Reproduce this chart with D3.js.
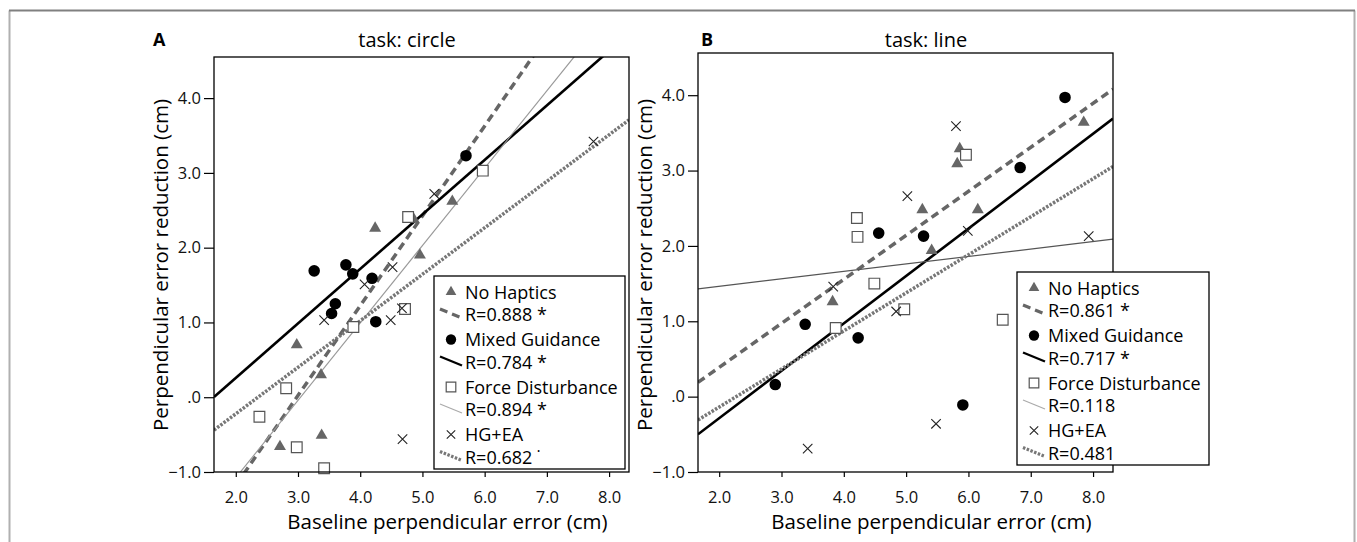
<!DOCTYPE html>
<html>
<head>
<meta charset="utf-8">
<script src="https://cdn.jsdelivr.net/npm/d3@7"></script>
<style>
  body { margin: 0; background: #fff; }
  svg { display: block; font-family: 'Open Sans', sans-serif; }
</style>
</head>
<body>
<svg id="chart" width="1357" height="542"></svg>
<script>
// legend order of the four groups
var seriesNames = ["No Haptics", "Mixed Guidance", "Force Disturbance", "HG+EA"];
var xTicks = [2, 3, 4, 5, 6, 7, 8];
var yTicks = [-1, 0, 1, 2, 3, 4];

// task: circle  -> [baseline error, error reduction]
var circleNoHaptics = [[5.48, 2.62], [4.86, 2.38], [4.24, 2.26], [4.96, 1.90], [2.98, 0.70], [3.37, 0.30], [3.38, -0.51], [2.71, -0.66]];
var circleMixed = [[5.70, 3.23], [3.26, 1.69], [3.77, 1.77], [3.88, 1.65], [4.19, 1.59], [3.60, 1.25], [3.54, 1.12], [4.25, 1.01]];
var circleForce = [[5.97, 3.03], [4.77, 2.41], [4.72, 1.18], [3.89, 0.94], [2.81, 0.12], [2.38, -0.26], [2.98, -0.67], [3.42, -0.95]];
var circleHGEA = [[7.75, 3.42], [5.19, 2.72], [4.52, 1.74], [4.07, 1.51], [3.42, 1.03], [4.49, 1.03], [4.67, 1.19], [4.68, -0.56]];
// fit lines y = a + b*x
var circleIntercepts = [-3.58, -1.20, -3.147, -1.466];
var circleSlopes = [1.201, 0.729, 1.035, 0.622];
var circleR = ["R=0.888 *", "R=0.784 *", "R=0.894 *", "R=0.682 \u02D9"];

// task: line
var lineNoHaptics = [[5.86, 3.29], [5.82, 3.09], [5.26, 2.48], [6.15, 2.48], [5.41, 1.94], [7.85, 3.64], [3.82, 1.26]];
var lineMixed = [[7.55, 3.97], [6.83, 3.04], [4.56, 2.17], [5.28, 2.13], [3.38, 0.96], [4.23, 0.78], [2.90, 0.16], [5.91, -0.11]];
var lineForce = [[5.96, 3.21], [4.21, 2.37], [4.22, 2.12], [4.49, 1.50], [4.97, 1.16], [6.55, 1.02], [3.87, 0.91]];
var lineHGEA = [[5.80, 3.59], [5.02, 2.66], [5.99, 2.20], [7.93, 2.13], [3.83, 1.46], [4.84, 1.13], [5.48, -0.36], [3.42, -0.69]];
var lineIntercepts = [-0.78, -1.544, 1.266, -1.148];
var lineSlopes = [0.584, 0.629, 0.099, 0.505];
var lineR = ["R=0.861 *", "R=0.717 *", "R=0.118", "R=0.481"];

var svg = d3.select("#chart");

// page border of the figure
svg.append("path")
    .attr("d", "M9.5,542V10.5")
    .attr("stroke", "#b0b0b0").attr("stroke-width", 2);
svg.append("path")
    .attr("d", "M1354.5,542V10.5")
    .attr("stroke", "#b0b0b0").attr("stroke-width", 2);
svg.append("path")
    .attr("d", "M9,10.5H1355")
    .attr("stroke", "#808080").attr("stroke-width", 2);

var styles = [
    {shape: d3.symbolTriangle, size: 62, fill: "#666", stroke: "none", sw: 0, line: "#666", lw: 3.5, dash: "8,5"},
    {shape: d3.symbolCircle, size: 105, fill: "#000", stroke: "none", sw: 0, line: "#000", lw: 2.6, dash: null},
    {shape: d3.symbolSquare, size: 115, fill: "#fff", stroke: "#555", sw: 1.2, line: "#999", lw: 1.2, dash: null},
    {shape: d3.symbolX, size: 60, fill: "none", stroke: "#222", sw: 1.1, line: "#777", lw: 3.5, dash: "2.5,1.5"}
];

function fmt(v) { return v === 0 ? ".0" : d3.format(".1f")(v); }

function drawPanel(p) {
    var x = d3.scaleLinear().domain(p.xDomain).range([p.left, p.right]);
    var y = d3.scaleLinear().domain(p.yDomain).range([p.bottom, p.top]);
    var g = svg.append("g");

    g.append("clipPath").attr("id", p.id + "-clip")
      .append("rect")
        .attr("x", p.left).attr("y", p.top)
        .attr("width", p.right - p.left).attr("height", p.bottom - p.top);

    // fit lines
    var fits = p.intercepts.map(function(a, i) { return {a: a, b: p.slopes[i], i: i}; });
    var lineGen = d3.line().x(function(d) { return x(d[0]); }).y(function(d) { return y(d[1]); });
    g.append("g").attr("clip-path", "url(#" + p.id + "-clip)")
      .selectAll("path").data(fits).enter().append("path")
        .attr("d", function(f) {
            var xs = p.xDomain;
            return lineGen([[xs[0], f.a + f.b * xs[0]], [xs[1], f.a + f.b * xs[1]]]);
        })
        .attr("fill", "none")
        .attr("stroke", function(f) { return f.i === 2 ? p.forceColor : styles[f.i].line; })
        .attr("stroke-width", function(f) { return styles[f.i].lw; })
        .attr("stroke-dasharray", function(f) { return styles[f.i].dash; });

    // points
    p.series.forEach(function(pts, i) {
        var st = styles[i];
        g.selectAll(".pt" + i).data(pts).enter().append("path")
            .attr("class", "pt" + i)
            .attr("transform", function(d) { return "translate(" + x(d[0]) + "," + y(d[1]) + ")"; })
            .attr("d", d3.symbol().type(st.shape).size(st.size))
            .attr("fill", st.fill)
            .attr("stroke", st.stroke)
            .attr("stroke-width", st.sw);
    });

    // axes
    var xAxis = g.append("g")
        .attr("transform", "translate(0," + p.bottom + ")")
        .call(d3.axisBottom(x).tickValues(xTicks).tickSize(5).tickPadding(14).tickFormat(fmt));
    var yAxis = g.append("g")
        .attr("transform", "translate(" + p.left + ",0)")
        .call(d3.axisLeft(y).tickValues(yTicks).tickSize(10).tickPadding(3).tickFormat(fmt));
    [xAxis, yAxis].forEach(function(ax) {
        ax.select(".domain").remove();
        ax.selectAll("line").attr("stroke", "#000").attr("stroke-width", 1.2);
        ax.selectAll("text").attr("fill", "#111").style("font-size", "16.5px")
            .style("font-family", "'Open Sans', sans-serif");
    });

    // frame
    g.append("rect")
        .attr("x", p.left).attr("y", p.top)
        .attr("width", p.right - p.left).attr("height", p.bottom - p.top)
        .attr("fill", "none").attr("stroke", "#000").attr("stroke-width", 1.3);

    // titles
    g.append("text").attr("x", p.letterX).attr("y", 46)
        .style("font-size", "18px").style("font-weight", "bold").text(p.letter);
    g.append("text").attr("x", p.titleX).attr("y", 47).attr("text-anchor", "middle")
        .style("font-size", "20px").text(p.title);
    g.append("text").attr("x", (p.left + p.right) / 2 + 26).attr("y", 529).attr("text-anchor", "middle")
        .style("font-size", "20.5px").text("Baseline perpendicular error (cm)");
    g.append("text")
        .attr("transform", "translate(" + (p.left - 46) + "," + 265 + ") rotate(-90)")
        .attr("text-anchor", "middle")
        .style("font-size", "20.5px").text("Perpendicular error reduction (cm)");

    // legend
    var lg = g.append("g");
    lg.append("rect")
        .attr("x", p.legend.x).attr("y", p.legend.y)
        .attr("width", p.legend.w).attr("height", p.legend.h)
        .attr("fill", "#fff").attr("stroke", "#000").attr("stroke-width", 1.3);
    var tx = p.legend.x + 31;
    seriesNames.forEach(function(name, i) {
        var st = styles[i];
        var rowY = p.legend.y + 16 + i * 47.5;
        lg.append("path")
            .attr("transform", "translate(" + (tx - 14) + "," + rowY + ")")
            .attr("d", d3.symbol().type(st.shape).size(st.size * 0.8))
            .attr("fill", st.fill).attr("stroke", st.stroke).attr("stroke-width", st.sw);
        lg.append("text").attr("x", tx).attr("y", rowY + 6.5)
            .style("font-size", "18px").text(name);
        var rY = rowY + 22;
        lg.append("line")
            .attr("x1", tx - 25).attr("y1", rY - 5)
            .attr("x2", tx - 3).attr("y2", rY + 4)
            .attr("stroke", i === 2 ? "#aaa" : st.line)
            .attr("stroke-width", i === 2 ? 1.2 : st.lw * 0.9)
            .attr("stroke-dasharray", st.dash);
        lg.append("text").attr("x", tx).attr("y", rY + 7)
            .style("font-size", "18px").text(p.rLabels[i]);
    });
}

drawPanel({
    id: "circle", letter: "A", letterX: 153, title: "task: circle", titleX: 407,
    left: 214, right: 629, top: 57, bottom: 472,
    xDomain: [1.65, 8.32], yDomain: [-1, 4.55],
    series: [circleNoHaptics, circleMixed, circleForce, circleHGEA],
    intercepts: circleIntercepts, slopes: circleSlopes, rLabels: circleR,
    forceColor: "#999",
    legend: {x: 434, y: 276, w: 191, h: 193}
});

drawPanel({
    id: "line", letter: "B", letterX: 701, title: "task: line", titleX: 926,
    left: 698, right: 1113, top: 53, bottom: 472,
    xDomain: [1.66, 8.32], yDomain: [-1, 4.56],
    series: [lineNoHaptics, lineMixed, lineForce, lineHGEA],
    intercepts: lineIntercepts, slopes: lineSlopes, rLabels: lineR,
    forceColor: "#555",
    legend: {x: 1017, y: 272, w: 192, h: 193}
});
</script>
</body>
</html>
